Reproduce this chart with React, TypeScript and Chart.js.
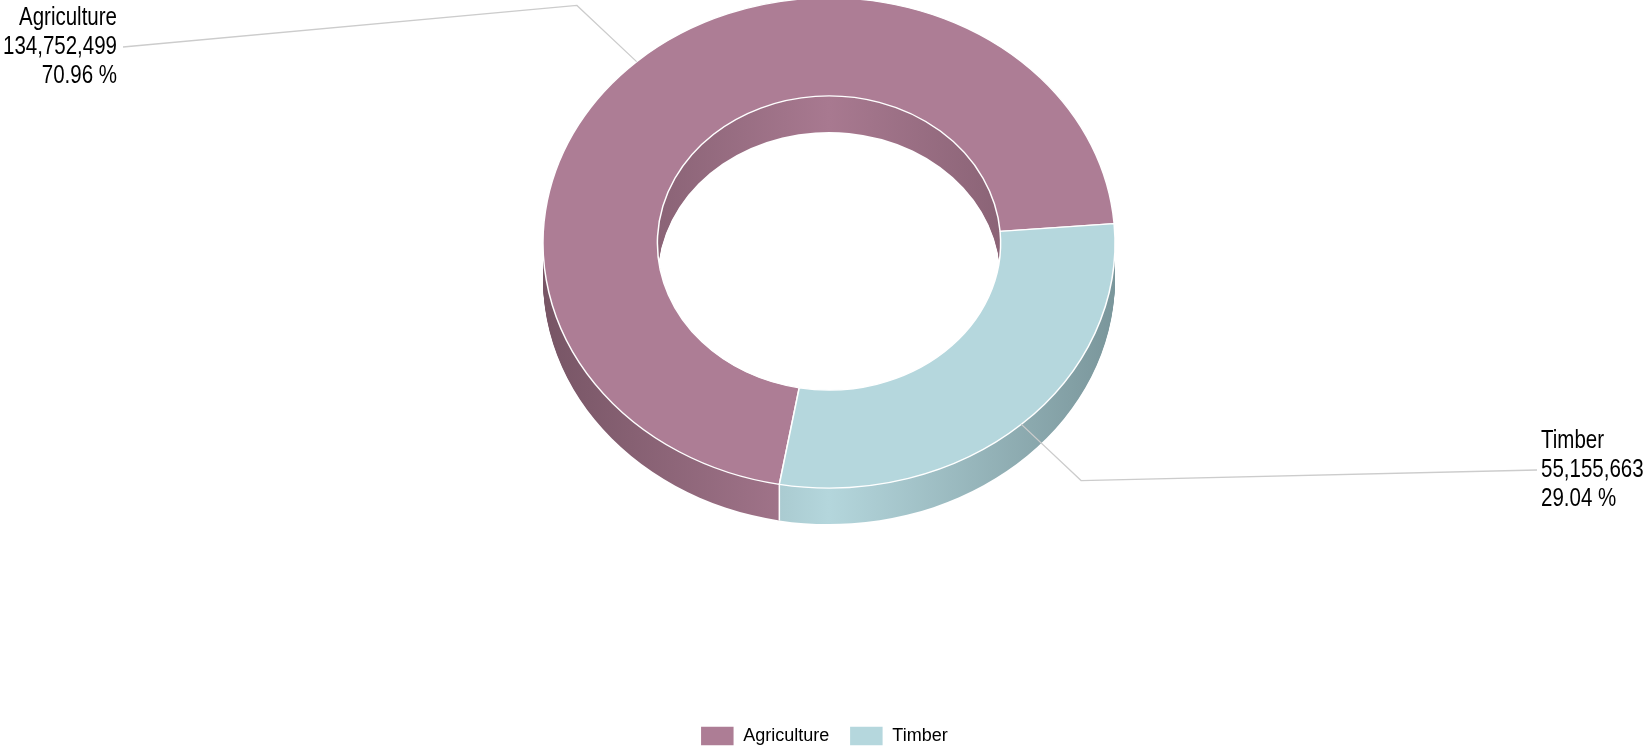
import React, { useEffect, useRef } from "react";
import { Chart, registerables } from "chart.js";

Chart.register(...registerables);

// ---- data ----
const categories = ["Agriculture", "Timber"];
const values = [134752499, 55155663];

// ---- styles ----
const topColors = ["#ad7d95", "#b5d7dd"];
const sideDarkColors = ["#775565", "#7a969b"];
const sideLightColors = ["#a87990", "#b4d6dc"];

const FONT = "'Liberation Sans', Arial, sans-serif";
const LABEL_FONT_SIZE = 25;
const NARROW = 0.82; // horizontal squeeze to mimic a narrow face
const TILT = 0.857; // vertical squash of the ring
const DEPTH = 36; // wall height in px
const CENTER_Y = 243; // screen y of the ring's top face centre
const CENTER_SHIFT_X = 5;
const ELBOW = 82;
const LINE_GAP = 29;
const labelLayout = [
  { x: 117, y: 47, align: "right" as CanvasTextAlign, lineX: 123 },
  { x: 1541, y: 470, align: "left" as CanvasTextAlign, lineX: 1537 },
];

const fmt = (v: number) => v.toLocaleString("en-US");

const pie3d = {
  id: "pie3d",
  beforeDatasetsDraw(chart: any) {
    const meta = chart.getDatasetMeta(0);
    const arcs = meta.data;
    const ctx: CanvasRenderingContext2D = chart.ctx;
    chart.$pie3dSaved = false;
    if (!arcs.length) return;
    const cx = arcs[0].x;
    const cy = arcs[0].y;
    const tx = cx + CENTER_SHIFT_X;
    const ty = CENTER_Y;
    const R = arcs[0].outerRadius;
    const grads = arcs.map((_: any, i: number) => {
      const g = ctx.createLinearGradient(cx - R, 0, cx + R, 0);
      g.addColorStop(0, sideDarkColors[i]);
      g.addColorStop(0.5, sideLightColors[i]);
      g.addColorStop(1, sideDarkColors[i]);
      return g;
    });
    for (let d = DEPTH; d >= 1; d--) {
      ctx.save();
      ctx.translate(tx, ty + d);
      ctx.scale(1, TILT);
      ctx.translate(-cx, -cy);
      arcs.forEach((arc: any, i: number) => {
        const p = arc.getProps(["startAngle", "endAngle", "innerRadius", "outerRadius"], true);
        ctx.beginPath();
        ctx.arc(cx, cy, p.outerRadius, p.startAngle, p.endAngle);
        ctx.arc(cx, cy, p.innerRadius, p.endAngle, p.startAngle, true);
        ctx.closePath();
        ctx.fillStyle = grads[i];
        ctx.fill();
      });
      ctx.restore();
    }
    // white seams on the front walls
    ctx.save();
    ctx.strokeStyle = "#ffffff";
    ctx.lineWidth = 1.5;
    arcs.forEach((arc: any) => {
      const p = arc.getProps(["startAngle", "outerRadius"], true);
      const s = Math.sin(p.startAngle);
      if (s > 0) {
        const x = tx + p.outerRadius * Math.cos(p.startAngle);
        const y = ty + TILT * p.outerRadius * s;
        ctx.beginPath();
        ctx.moveTo(x, y);
        ctx.lineTo(x, y + DEPTH);
        ctx.stroke();
      }
    });
    ctx.restore();

    ctx.save();
    ctx.translate(tx, ty);
    ctx.scale(1, TILT);
    ctx.translate(-cx, -cy);
    chart.$pie3dSaved = true;
  },
  afterDatasetsDraw(chart: any) {
    if (chart.$pie3dSaved) {
      chart.ctx.restore();
      chart.$pie3dSaved = false;
    }
  },
  afterDraw(chart: any) {
    const meta = chart.getDatasetMeta(0);
    const arcs = meta.data;
    if (!arcs.length) return;
    const ctx: CanvasRenderingContext2D = chart.ctx;
    const cx = arcs[0].x;
    const tx = cx + CENTER_SHIFT_X;
    const ty = CENTER_Y;
    const total = values.reduce((a, b) => a + b, 0);
    arcs.forEach((arc: any, i: number) => {
      const p = arc.getProps(["startAngle", "endAngle", "outerRadius"], true);
      const mid = (p.startAngle + p.endAngle) / 2;
      const ex = tx + p.outerRadius * Math.cos(mid);
      const ey = ty + TILT * p.outerRadius * Math.sin(mid);
      const dx = ex - tx;
      const dy = ey - ty;
      const len = Math.hypot(dx, dy) || 1;
      const bx = ex + (dx / len) * ELBOW;
      const by = ey + (dy / len) * ELBOW;
      const lab = labelLayout[i];
      ctx.save();
      ctx.strokeStyle = "#cccccc";
      ctx.lineWidth = 1.3;
      ctx.beginPath();
      ctx.moveTo(ex, ey);
      ctx.lineTo(bx, by);
      ctx.lineTo(lab.lineX, lab.y);
      ctx.stroke();
      ctx.fillStyle = "#000000";
      ctx.font = `${LABEL_FONT_SIZE}px ${FONT}`;
      ctx.textAlign = lab.align;
      ctx.textBaseline = "middle";
      const lines = [categories[i], fmt(values[i]), ((values[i] / total) * 100).toFixed(2) + " %"];
      lines.forEach((t, j) => {
        ctx.save();
        ctx.translate(lab.x, lab.y + (j - 1) * LINE_GAP);
        ctx.scale(NARROW, 1);
        ctx.fillText(t, 0, 0);
        ctx.restore();
      });
      ctx.restore();
    });
  },
};

export default function App() {
  const ref = useRef<HTMLCanvasElement | null>(null);
  useEffect(() => {
    if (!ref.current) return;
    const chart = new Chart(ref.current, {
      type: "doughnut",
      data: {
        labels: categories,
        datasets: [
          {
            data: values,
            backgroundColor: topColors,
            borderColor: "#ffffff",
            borderWidth: 1.5,
            clip: false as any,
          },
        ],
      },
      options: {
        animation: false,
        responsive: true,
        maintainAspectRatio: false,
        events: [],
        rotation: 190,
        cutout: "60%",
        radius: 286,
        layout: { padding: { bottom: -10 } },
        plugins: {
          tooltip: { enabled: false },
          legend: {
            position: "bottom",
            labels: {
              boxWidth: 34,
              boxHeight: 20,
              padding: 20,
              color: "#000000",
              font: { family: FONT, size: 18 },
            },
          },
        },
      },
      plugins: [pie3d],
    });
    return () => chart.destroy();
  }, []);
  return (
    <div style={{ position: "fixed", left: 0, top: 0, width: 1648, height: 746 }}>
      <canvas ref={ref} />
    </div>
  );
}
